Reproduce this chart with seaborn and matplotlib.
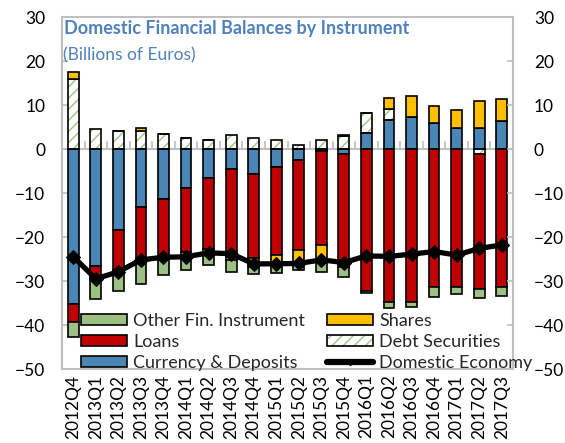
#!/usr/bin/env python
"""Domestic financial balances by instrument (stacked bars + line)."""

import matplotlib
matplotlib.use("Agg")
import matplotlib.pyplot as plt
from matplotlib.patches import Patch
from matplotlib.lines import Line2D
import numpy as np
import seaborn as sns

quarters = ["2012Q4", "2013Q1", "2013Q2", "2013Q3", "2013Q4",
            "2014Q1", "2014Q2", "2014Q3", "2014Q4", "2015Q1",
            "2015Q2", "2015Q3", "2015Q4", "2016Q1", "2016Q2",
            "2016Q3", "2016Q4", "2017Q1", "2017Q2", "2017Q3"]

# billions of euros
currency = [-35.2, -26.7, -18.3, -13.1, -11.4, -8.9, -6.5, -4.5, -5.7, -4.0,
            -2.5, -0.5, -1.1, 3.6, 6.7, 7.2, 6.0, 4.7, 4.7, 6.4]
debt = [16.0, 4.5, 4.1, 4.0, 3.3, 2.4, 2.0, 3.2, 2.4, 2.0,
        0.8, 2.0, 2.9, 4.5, 2.5, 0.0, 0.0, 0.0, -1.2, 0.0]
loans = [-4.1, -2.3, -9.2, -12.4, -13.4, -14.4, -16.3, -20.0, -19.1, -20.2,
         -20.5, -21.3, -25.7, -32.2, -34.7, -34.7, -31.3, -31.4, -30.7, -31.3]
shares = [1.4, -0.4, 0.0, 0.8, 0.0, 0.0, 0.0, -0.8, -2.0, -1.7,
          -3.0, -3.5, 0.3, 0.0, 2.5, 4.9, 3.7, 4.2, 6.3, 5.0]
other = [-3.5, -4.7, -4.8, -5.2, -3.9, -4.3, -3.6, -2.7, -1.6, -2.3,
         -1.6, -2.6, -2.2, -0.6, -1.5, -1.1, -2.3, -1.6, -2.0, -2.1]
domestic = [-24.5, -29.5, -27.9, -25.2, -24.6, -24.5, -23.6, -23.8, -26.1, -26.1,
            -26.0, -25.2, -25.8, -24.3, -24.4, -23.9, -23.3, -24.1, -22.6, -21.8]

BLUE = "#4A85B5"
RED = "#C00000"
YELLOW = "#FFC000"
GREEN = "#9CC084"
HATCH_GREEN = "#9CC57E"
GREY = "#BFBFBF"
TITLE_BLUE = "#4F81BD"
BAR_W = 0.48
EDGE_W = 1.2

sns.set_theme(style="white")
plt.rcParams["font.family"] = ["Lato", "DejaVu Sans"]
plt.rcParams["hatch.linewidth"] = 1.0

fig = plt.figure(figsize=(5.65, 4.43), dpi=100)
ax = fig.add_axes([62 / 565, 74 / 443, 451 / 565, 352 / 443])

# stack in series order: positives upward, negatives downward
n = len(quarters)
pos_base = np.zeros(n)
neg_base = np.zeros(n)
series = [("Currency & Deposits", currency, BLUE),
          ("Debt Securities", debt, None),
          ("Loans", loans, RED),
          ("Shares", shares, YELLOW),
          ("Other Fin. Instrument", other, GREEN)]
for name, vals, color in series:
    vals = np.array(vals, dtype=float)
    bottom = np.where(vals >= 0, pos_base, neg_base)
    if color is None:
        # hatch drawn in green, outline drawn separately in black
        sns.barplot(x=quarters, y=vals, bottom=bottom, color="white",
                    saturation=1, width=BAR_W, errorbar=None, edgecolor=HATCH_GREEN,
                    linewidth=0, hatch="///", ax=ax, zorder=2)
        sns.barplot(x=quarters, y=vals, bottom=bottom, color="white",
                    saturation=1, width=BAR_W, errorbar=None, facecolor="none",
                    edgecolor="black", linewidth=EDGE_W, ax=ax, zorder=3)
    else:
        sns.barplot(x=quarters, y=vals, bottom=bottom, color=color,
                    saturation=1, width=BAR_W, errorbar=None,
                    edgecolor="black", linewidth=EDGE_W, ax=ax, zorder=3)
    pos_base += np.clip(vals, 0, None)
    neg_base += np.clip(vals, None, 0)

sns.lineplot(x=quarters, y=domestic, color="black", linewidth=3.8, marker="D",
             markersize=7, markeredgecolor="black", ax=ax, zorder=5)

ymin, ymax = -50, 30
ax.set_ylim(ymin, ymax)
ax.set_xlim(-0.5, n - 0.5)
ax.set_yticks(range(ymin, ymax + 1, 10))
ax.set_xlabel("")
ax.set_ylabel("")
ax.tick_params(axis="y", direction="in", length=4, color=GREY, pad=12,
               labelsize=12.5, labelcolor="black")
ax.tick_params(axis="x", length=0, pad=4, labelrotation=90, labelsize=12.5,
               labelcolor="black")
for sp in ax.spines.values():
    sp.set_visible(True)
    sp.set_color(GREY)
    sp.set_linewidth(1.5)

# zero line with category boundary ticks
zero_frac = (0 - ymin) / (ymax - ymin)
zax = ax.secondary_xaxis(zero_frac)
zax.set_xticks(np.arange(n + 1) - 0.5)
zax.set_xticklabels([])
zax.tick_params(axis="x", which="both", direction="out", length=6, color=GREY,
                width=1.2, labeltop=False, labelbottom=False)
for side in ("top", "bottom"):
    zax.spines[side].set_color(GREY)
    zax.spines[side].set_linewidth(1.5)

ax2 = ax.twinx()
ax2.set_ylim(ymin, ymax)
ax2.set_yticks(range(ymin, ymax + 1, 10))
ax2.tick_params(axis="y", direction="in", length=4, color=GREY, pad=15,
                labelsize=12.5, labelcolor="black")
for sp in ax2.spines.values():
    sp.set_visible(False)

ax.text(0.005, 0.991, "Domestic Financial Balances by Instrument",
        transform=ax.transAxes, ha="left", va="top", fontsize=13,
        fontweight="bold", color=TITLE_BLUE)
ax.text(0.002, 0.915, "(Billions of Euros)", transform=ax.transAxes,
        ha="left", va="top", fontsize=12.5, color=TITLE_BLUE)

# legend: two columns placed separately so they line up with the reference
col1 = [Patch(facecolor=GREEN, edgecolor="black", linewidth=EDGE_W),
        Patch(facecolor=RED, edgecolor="black", linewidth=EDGE_W),
        Patch(facecolor=BLUE, edgecolor="black", linewidth=EDGE_W)]
col2 = [Patch(facecolor=YELLOW, edgecolor="black", linewidth=EDGE_W),
        (Patch(facecolor="white", edgecolor=HATCH_GREEN, linewidth=0, hatch="///"),
         Patch(facecolor="none", edgecolor="black", linewidth=EDGE_W)),
        Line2D([], [], color="black", linewidth=4.5, marker="D", markersize=3)]
labels1 = ["Other Fin. Instrument", "Loans", "Currency & Deposits"]
labels2 = ["Shares", "Debt Securities", "Domestic Economy"]
leg_kw = dict(loc="upper left", frameon=False, fontsize=13, handlelength=2.55,
              handleheight=0.6, handletextpad=0.33, labelspacing=0.27,
              borderpad=0, borderaxespad=0)
fig.legend(col1, labels1, bbox_to_anchor=(81 / 565, 1 - 313 / 443), **leg_kw)
fig.legend(col2, labels2, bbox_to_anchor=(327 / 565, 1 - 313 / 443), **leg_kw)

fig.savefig("out.png", dpi=100)
